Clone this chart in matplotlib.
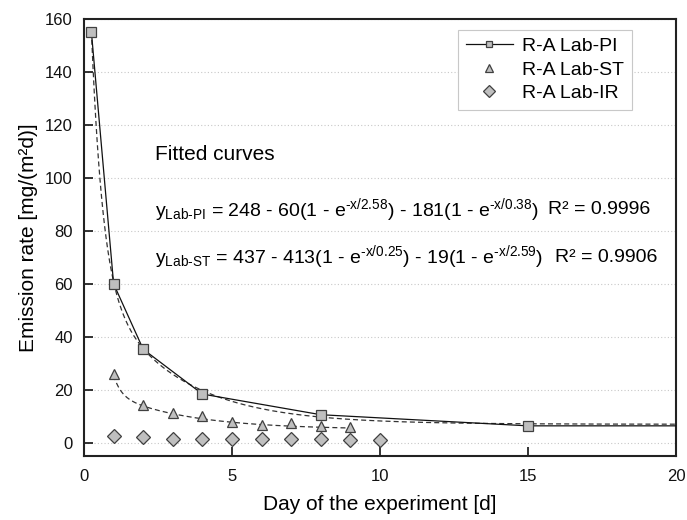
import numpy as np
import matplotlib
matplotlib.use("Agg")
import matplotlib.pyplot as plt

plt.rcParams['font.family'] = ['Liberation Sans', 'DejaVu Sans']
plt.rcParams['mathtext.fontset'] = 'custom'
plt.rcParams['mathtext.rm'] = 'Liberation Sans'
plt.rcParams['mathtext.it'] = 'Liberation Sans'

# measured emission rates [mg/(m2 d)]
pi_days = [0.25, 1, 2, 4, 8, 15, 20]
pi_rate = [155, 60, 35.3, 18.4, 10.6, 6.4, 6.4]
st_days = [1, 2, 3, 4, 5, 6, 7, 8, 9]
st_rate = [25.8, 14.1, 11.2, 10.0, 7.8, 6.6, 7.3, 6.3, 5.8]
ir_days = [1, 2, 3, 4, 5, 6, 7, 8, 9, 10]
ir_rate = [2.5, 2.1, 1.3, 1.5, 1.6, 1.6, 1.3, 1.3, 1.1, 1.1]

# fitted double-exponential coefficients (from the printed equations)
pi_fit = [248, 60, 2.58, 181, 0.38]
st_fit = [437, 413, 0.25, 19, 2.59]
pi_fit_range = [0.25, 20]
st_fit_range = [1, 9]


def fit_curve(c, x):
    return c[0] - c[1] * (1 - np.exp(-x / c[2])) - c[3] * (1 - np.exp(-x / c[4]))


fig = plt.figure(figsize=(6.87, 5.2), dpi=100)
ax = fig.add_axes([0.1223, 0.123, 0.8617, 0.8405])

fill = '#bfbfbf'
edge = '#404040'

xf = np.linspace(pi_fit_range[0], pi_fit_range[1], 400)
ax.plot(xf, fit_curve(pi_fit, xf), ls=(0, (4, 2.5)), color='#333333', lw=0.9, zorder=2)
xs = np.linspace(st_fit_range[0], st_fit_range[1], 300)
ax.plot(xs, fit_curve(st_fit, xs), ls=(0, (4, 2.5)), color='#333333', lw=0.9, zorder=2)

ax.plot(pi_days, pi_rate, '-s', color='#111111', lw=0.9, ms=6.5, mfc=fill, mec=edge,
        mew=0.9, markevery=list(range(len(pi_days) - 1)), label='R-A Lab-PI', zorder=3)
ax.plot(st_days, st_rate, '^', ms=7.5, mfc=fill, mec=edge, mew=0.9, ls='none',
        label='R-A Lab-ST', zorder=3)
ax.plot(ir_days, ir_rate, 'D', ms=7.5, mfc=fill, mec=edge, mew=0.9, ls='none',
        label='R-A Lab-IR', zorder=3)

ax.set_xlim(0, 20)
ax.set_ylim(-5, 160)
ax.set_xticks([0, 5, 10, 15, 20])
ax.set_yticks(range(0, 161, 20))
ax.tick_params(direction='in', length=6.5, width=1.2, labelsize=12, colors='#111111')
ax.tick_params(axis='x', pad=9)
ax.tick_params(axis='y', pad=8)
ax.grid(axis='y', ls=(0, (1, 2)), color='#c8c8c8', lw=0.8)
for s in ax.spines.values():
    s.set_linewidth(1.5)
    s.set_color('#222222')

ax.set_xlabel('Day of the experiment [d]', fontsize=15, labelpad=8)
ax.set_ylabel('Emission rate [mg/(m²d)]', fontsize=15, labelpad=5)

ax.text(2.4, 109, 'Fitted curves', fontsize=15, va='center', ha='left')
ax.text(2.4, 88, r'y$_{\text{Lab-PI}}$ = 248 - 60(1 - e$^{\text{-x/2.58}}$) - 181(1 - e$^{\text{-x/0.38}}$)',
        fontsize=14, va='center', ha='left')
ax.text(2.4, 70, r'y$_{\text{Lab-ST}}$ = 437 - 413(1 - e$^{\text{-x/0.25}}$) - 19(1 - e$^{\text{-x/2.59}}$)',
        fontsize=14, va='center', ha='left')
ax.text(15.68, 88, 'R² = 0.9996', fontsize=14, va='center', ha='left')
ax.text(15.9, 70, 'R² = 0.9906', fontsize=14, va='center', ha='left')

leg = ax.legend(loc='upper right', bbox_to_anchor=(0.926, 0.975), borderaxespad=0,
                fontsize=14, fancybox=False, edgecolor='#c8c8c8', framealpha=1,
                markerscale=0.75, handlelength=2.4, handletextpad=0.5, labelspacing=0.3,
                borderpad=0.4)
leg.get_frame().set_linewidth(0.8)

fig.savefig('out.png', dpi=100)
